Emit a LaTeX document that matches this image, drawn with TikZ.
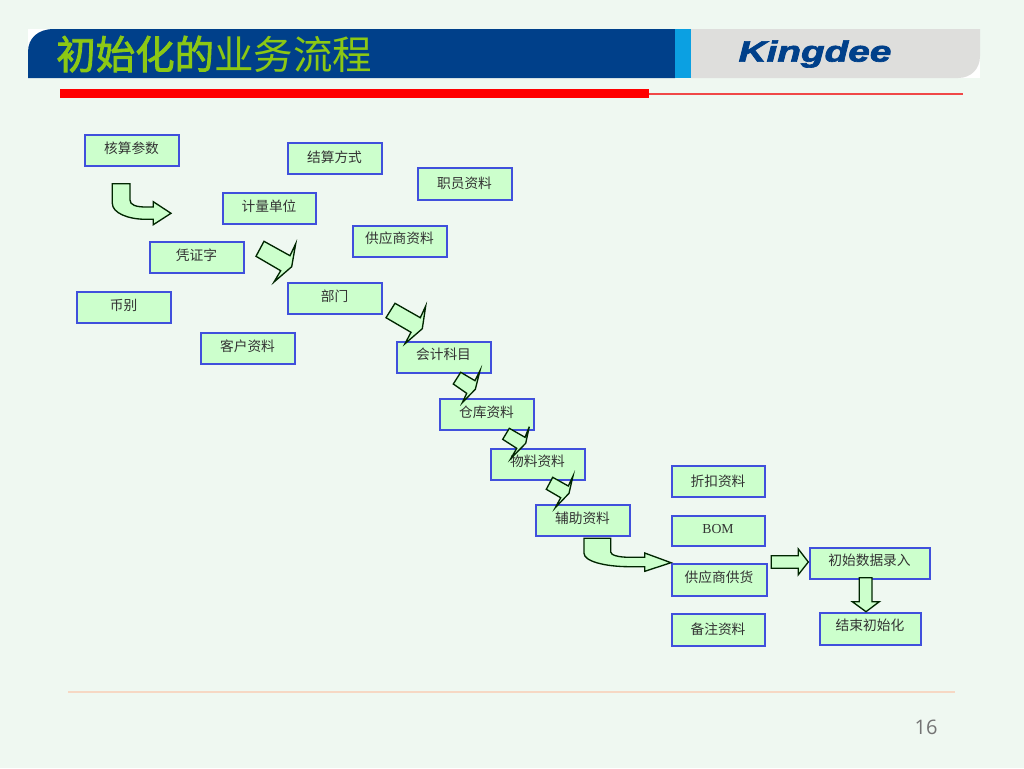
\documentclass[tikz,border=0pt]{standalone}
\usepackage{fontspec}
\setmainfont{Liberation Serif}
\newfontfamily\cjk{Noto Sans CJK SC}
\newfontfamily\cjkb[FakeBold=2]{Noto Sans CJK SC}
\newfontfamily\logofont[FakeBold=2.2]{Liberation Sans Bold Italic}
\newfontfamily\numfont{Open Sans}
\definecolor{bgc}{HTML}{EFF8F1}
\definecolor{boxfill}{HTML}{CCFFCC}
\definecolor{boxline}{HTML}{4050DC}
\definecolor{navy}{HTML}{00408A}
\definecolor{skyb}{HTML}{0BA0E2}
\definecolor{greyb}{HTML}{DEDEDC}
\definecolor{titleg}{HTML}{8CC814}
\definecolor{salmon}{HTML}{F6D8C4}
\definecolor{thinred}{HTML}{F04848}
\tikzset{
  flowbox/.style={draw=boxline,fill=boxfill,line width=1.5pt,outer sep=0pt,inner sep=0pt,xshift=0.375pt,yshift=-0.375pt,
    text=black!80,font=\cjk\fontsize{10.3}{12}\selectfont},
  blockarrow/.style={draw=black!85!green,fill=boxfill,line width=1pt,line join=miter}
}
\newcommand{\fbx}[7]{\node[flowbox,anchor=north west,minimum width={(#4-#2-1)*0.75pt},minimum height={(#5-#3-1)*0.75pt}] (#1) at (#2,#3) {\raisebox{#6pt}{#7}};}
\begin{document}
\begin{tikzpicture}[x=0.75pt,y=-0.75pt]
\useasboundingbox (0,0) rectangle (1024,768);
\fill[bgc] (0,0) rectangle (1024,768);
% header band
\fill[white] (28,29) rectangle (60,50);
\fill[white] (950,50) rectangle (980,78);
\fill[navy] (28,78) -- (28,52) .. controls (28,38) and (38,29) .. (54,29) -- (675,29) -- (675,78) -- cycle;
\fill[skyb] (675,29) rectangle (691,78);
\fill[greyb] (691,29) -- (980,29) -- (980,56) .. controls (980,69) and (971,78) .. (958,78) -- (691,78) -- cycle;
\node[text=navy,font=\logofont\fontsize{22}{24}\selectfont,xscale=1.32] (logo) at (815,54) {Kingdee};
\node[anchor=west,text=titleg,inner sep=0pt,font=\fontsize{29.6}{34}\selectfont] (title) at (56,54) {{\cjkb 初始化的}{\cjk 业务流程}};
% rules
\fill[red] (60,89) rectangle (649,98);
\draw[thinred,line width=1.5pt] (649,93.5) -- (963,93.5);
\draw[salmon,line width=1.5pt] (68,691.5) -- (955,691.5);
\node[text=black!55,font=\numfont\fontsize{15}{18}\selectfont] (pg) at (926,727) {16};
% boxes
\fbx{b1}{84}{134}{179}{166}{3.85}{核算参数}
\fbx{b2}{287}{142}{382}{174}{2.35}{结算方式}
\fbx{b3}{417}{167}{512}{200}{0.85}{职员资料}
\fbx{b4}{222}{192}{316}{224}{3.85}{计量单位}
\fbx{b5}{352}{225}{447}{257}{5.35}{供应商资料}
\fbx{b6}{149}{241}{244}{273}{3.85}{凭证字}
\fbx{b7}{76}{291}{171}{323}{3.85}{币别}
\fbx{b8}{287}{282}{382}{314}{3.85}{部门}
\fbx{b9}{200}{332}{295}{364}{3.85}{客户资料}
\fbx{b10}{396}{341}{491}{373}{5.35}{会计科目}
\fbx{b11}{439}{398}{534}{430}{3.85}{仓库资料}
\fbx{b12}{490}{448}{585}{480}{5.35}{物料资料}
\fbx{b13}{535}{504}{630}{536}{3.85}{辅助资料}
\fbx{b14}{671}{465}{765}{497}{0.85}{折扣资料}
\fbx{b15}{671}{515}{765}{546}{2.35}{\rmfamily BOM}
\fbx{b16}{671}{563}{767}{596}{3.85}{供应商供货}
\fbx{b17}{671}{613}{765}{646}{-0.65}{备注资料}
\fbx{b18}{809}{547}{930}{579}{5.35}{初始数据录入}
\fbx{b19}{819}{612}{921}{645}{5.35}{结束初始化}
% bent arrows
\draw[blockarrow] (112.3,183.7) -- (130,183.7) -- (130,200) .. controls (130,205) and (136,207) .. (146,207) -- (153.3,207) -- (153.3,201.7) -- (171,213.3) -- (153.3,224.7) -- (153.3,219.3) -- (146,219.3) .. controls (128,219.3) and (112.3,213) .. (112.3,203.3) -- cycle;
\draw[blockarrow] (584,538.3) -- (610.7,538.3) -- (610.7,552) .. controls (610.7,555) and (618,557.3) .. (630,557.3) -- (644.7,557.3) -- (644.7,553) -- (671,562.7) -- (644.7,571.3) -- (644.7,566.7) -- (630,566.7) .. controls (604,566.7) and (584,561) .. (584,553.3) -- cycle;
% skew arrows
\draw[blockarrow] (264,241.3) -- (290,255.7) -- (295.7,243.7) -- (291.7,266.7) -- (274,282) -- (280.7,270.7) -- (256,256.3) -- cycle;
\draw[blockarrow] (395,303.3) -- (420.3,317.7) -- (425.7,306) -- (422.3,328.7) -- (405,343.7) -- (411,332.3) -- (386,317.7) -- cycle;
\draw[blockarrow] (460.7,372.3) -- (475,380.7) -- (480,370.7) -- (475.3,389.3) -- (462.3,402.7) -- (466.7,393.3) -- (453.3,384) -- cycle;
\draw[blockarrow] (509.3,428.3) -- (525,437.3) -- (529.3,426.7) -- (525.7,443.3) -- (511,458.3) -- (516.7,448.3) -- (502.7,439.3) -- cycle;
\draw[blockarrow] (552.7,477.3) -- (568.3,486) -- (573,476) -- (569,493.3) -- (555.3,507.7) -- (560.7,497.7) -- (546.3,489.3) -- cycle;
% straight block arrows
\draw[blockarrow] (771.3,555.7) -- (798.3,555.7) -- (798.3,549) -- (808.3,562) -- (798.3,574.7) -- (798.3,568.3) -- (771.3,568.3) -- cycle;
\draw[blockarrow] (859.3,577.7) -- (872,577.7) -- (872,601.7) -- (879.3,601.7) -- (866,611.7) -- (852.3,601.7) -- (859.3,601.7) -- cycle;
\end{tikzpicture}
\end{document}
